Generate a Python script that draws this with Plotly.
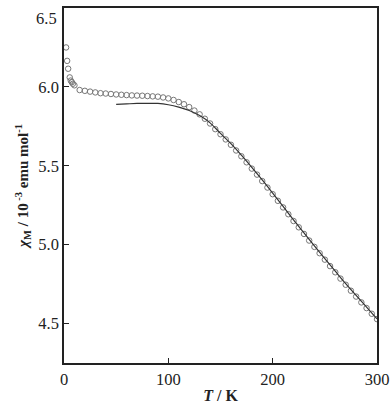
import plotly.graph_objects as go

# Experimental data (T in K, chi_M in 10^-3 emu/mol)
T_exp = [2, 3, 4, 5.5, 6.5, 7.5, 8.5, 10, 15, 20, 25, 30, 35, 40, 45, 50, 55, 60, 65, 70,
         75, 80, 85, 90, 95, 100, 105, 110, 115, 120, 125, 130, 135, 140, 145, 150, 155,
         160, 165, 170, 175, 180, 185, 190, 195, 200, 205, 210, 215, 220, 225, 230, 235,
         240, 245, 250, 255, 260, 265, 270, 275, 280, 285, 290, 295, 300]
chi_exp = [6.25, 6.165, 6.115, 6.06, 6.04, 6.03, 6.02, 6.01, 5.98, 5.975, 5.97, 5.965,
           5.96, 5.958, 5.955, 5.952, 5.95, 5.948, 5.946, 5.945, 5.944, 5.942, 5.94,
           5.938, 5.933, 5.927, 5.917, 5.904, 5.89, 5.872, 5.85, 5.826, 5.798, 5.768,
           5.732, 5.70, 5.667, 5.633, 5.597, 5.56, 5.522, 5.482, 5.444, 5.403, 5.362,
           5.32, 5.278, 5.236, 5.193, 5.150, 5.110, 5.068, 5.026, 4.986, 4.946, 4.905,
           4.864, 4.825, 4.785, 4.746, 4.708, 4.671, 4.634, 4.598, 4.562, 4.528]

# Fitted curve
T_fit = [50, 60, 70, 80, 90, 100, 110, 120, 130, 140, 150, 160, 170, 180, 190, 200, 210,
         220, 230, 240, 250, 260, 270, 280, 290, 300]
chi_fit = [5.889, 5.892, 5.895, 5.896, 5.895, 5.887, 5.872, 5.85, 5.818, 5.772, 5.705,
           5.64, 5.567, 5.49, 5.41, 5.327, 5.243, 5.157, 5.075, 4.993, 4.912, 4.832,
           4.753, 4.678, 4.604, 4.53]

x_ticks = [0, 100, 200, 300]
y_ticks = [4.5, 5.0, 5.5, 6.0, 6.5]
y_ticktext = ["4.5", "5.0", "5.5", "6.0", ""]
top_label = "6.5"

fig = go.Figure()
fig.add_trace(go.Scatter(
    x=T_exp, y=chi_exp, mode="markers",
    marker=dict(symbol="circle-open", size=5.5, color="#777777", line=dict(width=1, color="#777777")),
    showlegend=False))
fig.add_trace(go.Scatter(
    x=T_fit, y=chi_fit, mode="lines",
    line=dict(color="#333333", width=1.2, shape="spline"),
    showlegend=False))

font_family = "Liberation Serif"
fig.update_layout(
    width=392, height=404,
    margin=dict(l=64, r=15, t=8, b=41),
    paper_bgcolor="white", plot_bgcolor="white",
    font=dict(family=font_family, size=16, color="#222222"),
    xaxis=dict(
        range=[0, 300], tickvals=x_ticks, ticks="inside", ticklen=5, tickwidth=1.2,
        tickcolor="#222222", showline=True, linecolor="#222222", linewidth=1.5,
        mirror=True, showgrid=False, zeroline=False, automargin=False,
        tickfont=dict(family=font_family, size=16.5),
        title=dict(text="<b><i>T</i> / K</b>", font=dict(family=font_family, size=16), standoff=2),
    ),
    yaxis=dict(
        range=[4.25, 6.5], tickvals=y_ticks, ticktext=y_ticktext, ticks="inside", ticklen=5,
        tickwidth=1.2, tickcolor="#222222", showline=True, linecolor="#222222", linewidth=1.5,
        mirror=True, showgrid=False, zeroline=False, automargin=False,
        tickfont=dict(family=font_family, size=16.5),
        title=dict(text="<b><i>χ</i><sub>M</sub> / 10<sup> -3</sup> emu mol<sup>-1</sup></b>",
                   font=dict(family=font_family, size=15), standoff=6),
    ),
    annotations=[dict(text=top_label, x=0, xref="paper", y=6.5, yref="y",
                      xanchor="right", yanchor="top", xshift=-5, yshift=1, showarrow=False,
                      font=dict(family=font_family, size=16.5, color="#222222"))],
)

fig.write_html(
    "out.html",
    config={"displayModeBar": False},
    post_script="document.body.style.margin='0';document.body.style.overflow='hidden';",
)
